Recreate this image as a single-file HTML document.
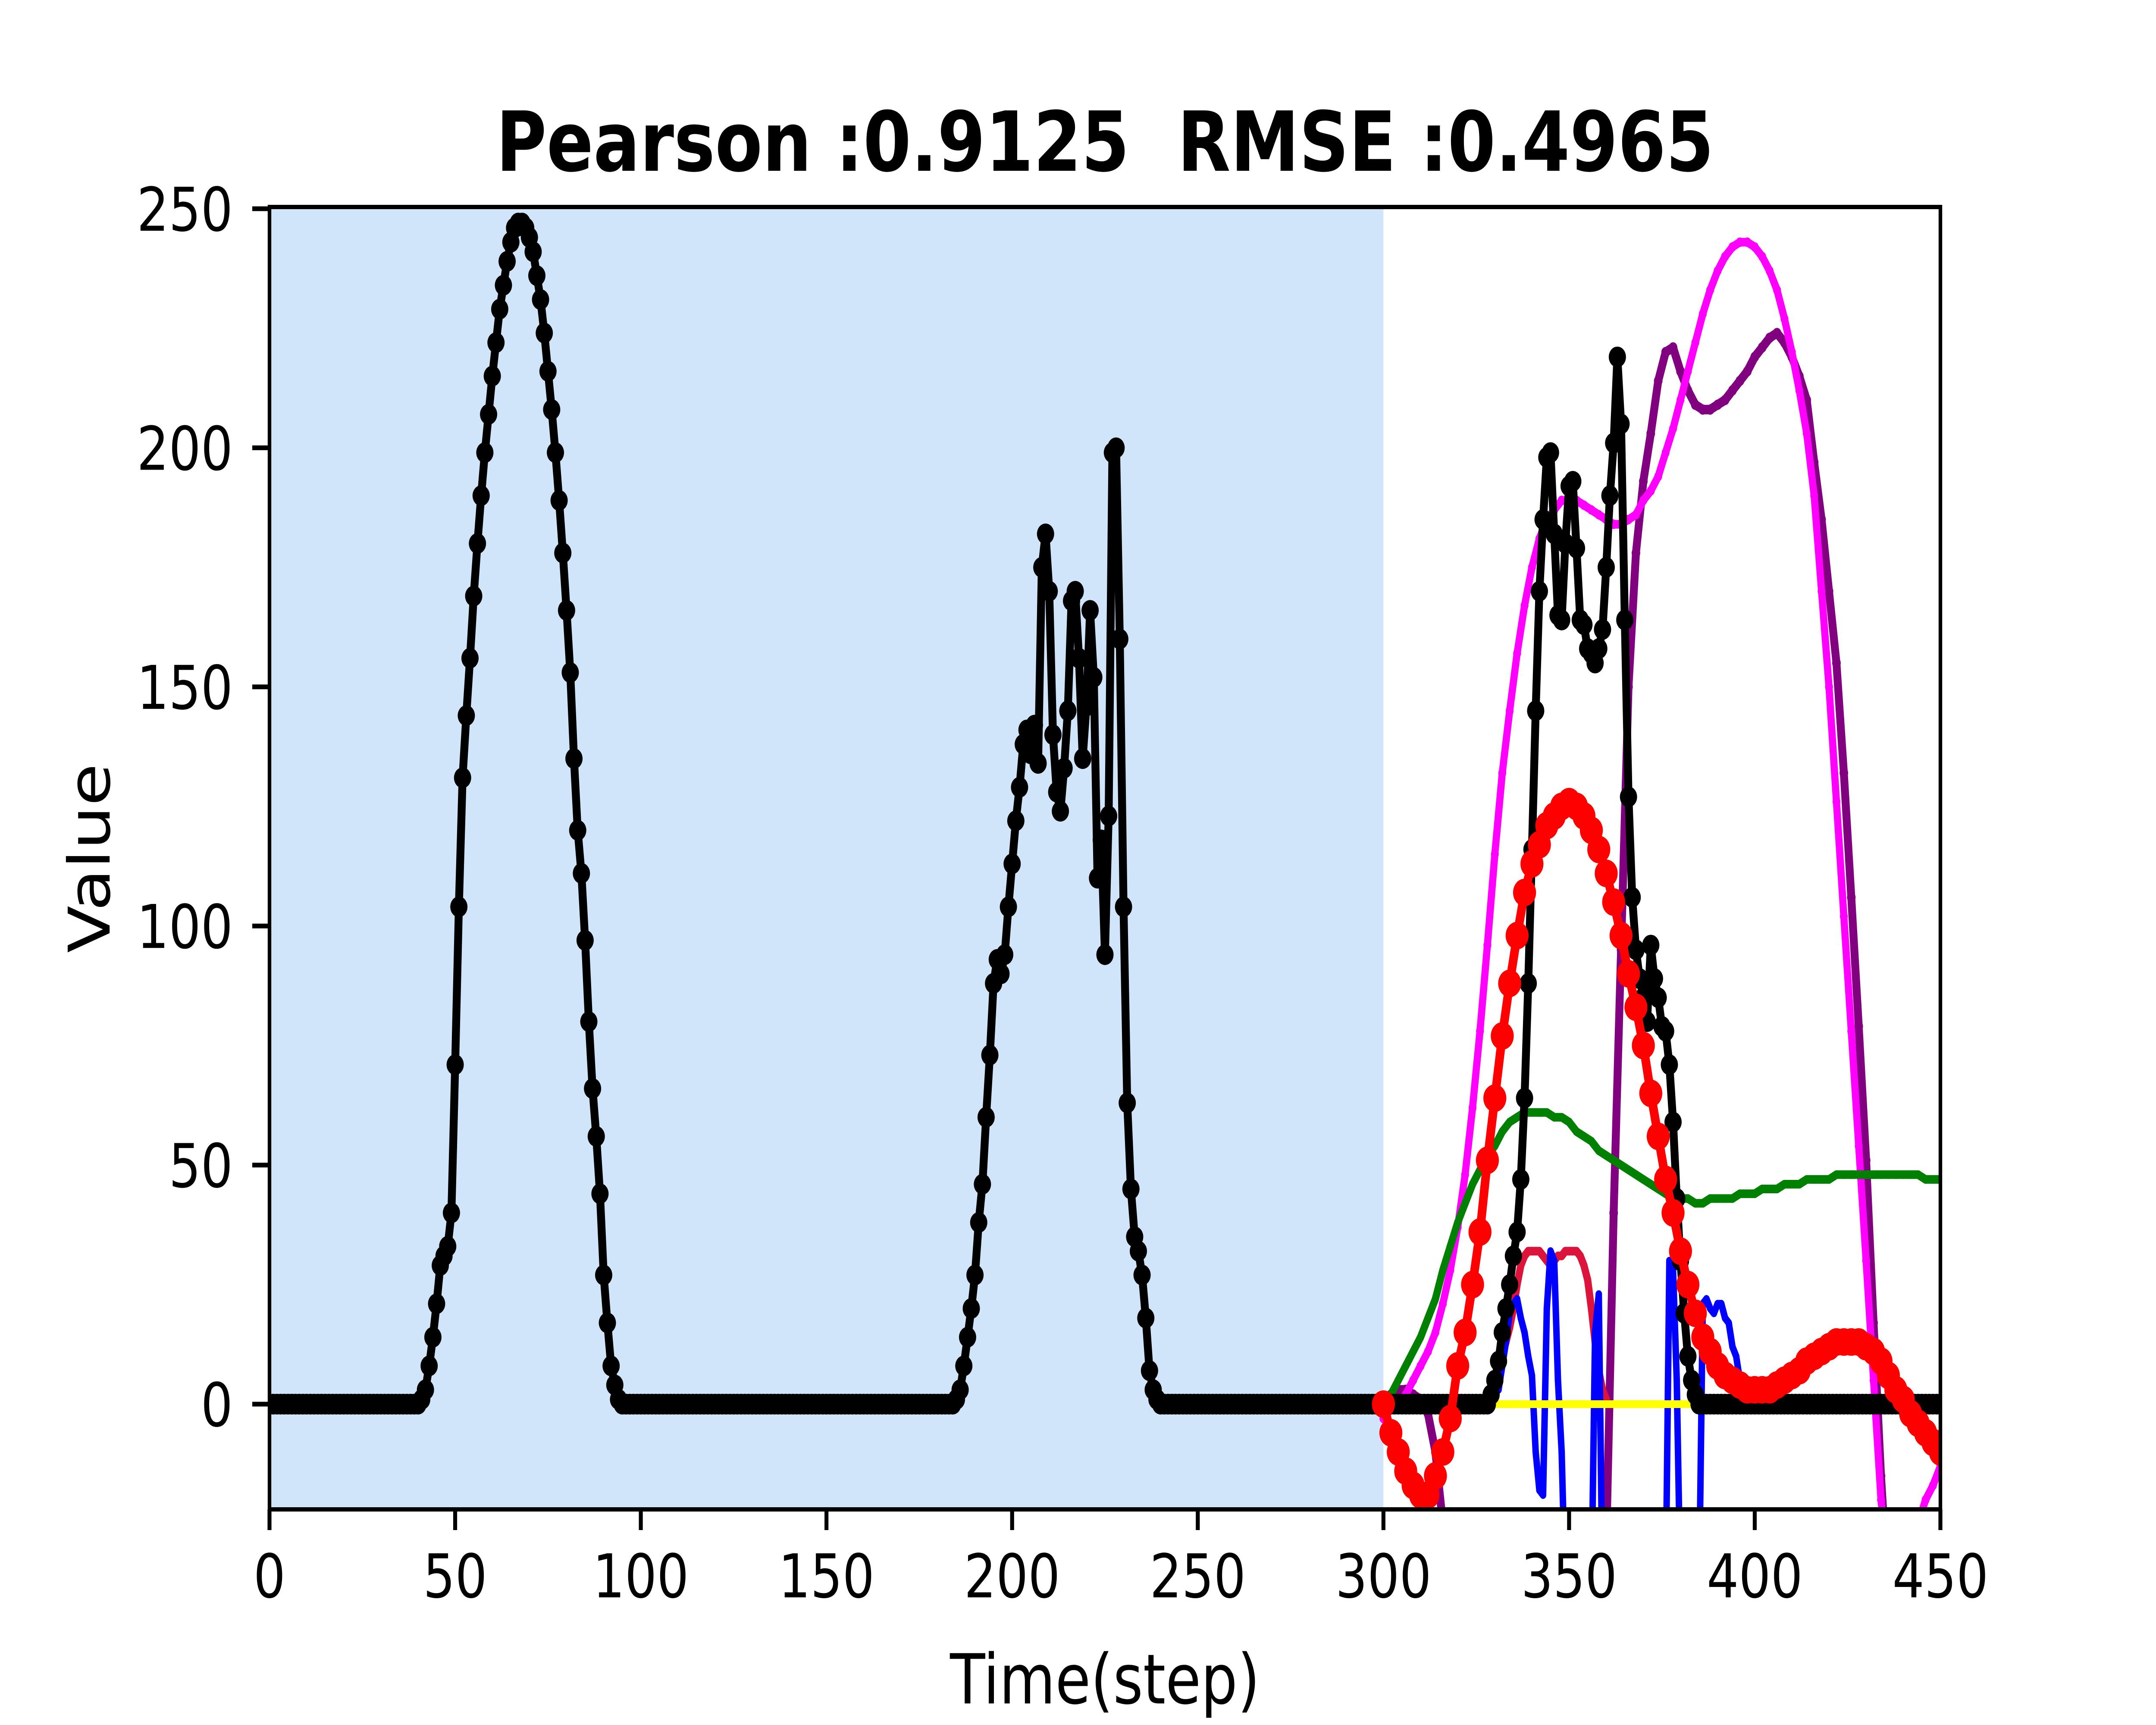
<!DOCTYPE html>
<html>
<head>
<meta charset="utf-8">
<style>
html,body{margin:0;padding:0;background:#fff;width:100%;height:100%;overflow:hidden;}
svg{display:block;position:absolute;left:0;top:0;width:100vw;height:100vh;}
text{font-family:"DejaVu Sans","Liberation Sans",sans-serif;fill:#000;}
</style>
</head>
<body>
<svg id="chart" viewBox="0 0 6000 4000" preserveAspectRatio="none" xmlns="http://www.w3.org/2000/svg">
  <defs>
    <clipPath id="plotclip"><rect x="750" y="480" width="4650" height="3020"/></clipPath>
  </defs>
  <rect x="0" y="0" width="6000" height="4000" fill="#ffffff"/>
  <g id="bg"></g>
  <g id="series" clip-path="url(#plotclip)"></g>
  <rect x="750" y="480" width="4650" height="3020" fill="none" stroke="#000" stroke-width="10"/>
  <g id="xticks"></g>
  <g id="yticks"></g>
  <text x="3075" y="396" font-size="192" font-weight="bold" text-anchor="middle" xml:space="preserve">Pearson :0.9125  RMSE :0.4965</text>
  <text x="3075" y="3950" font-size="160" text-anchor="middle">Time(step)</text>
  <text x="0" y="0" font-size="160" text-anchor="middle" transform="translate(305,1990) rotate(-90)">Value</text>
</svg>
<script>
// ---------- data ----------
const xTicks = [0,50,100,150,200,250,300,350,400,450];
const yTicks = [0,50,100,150,200,250];
const trainEnd = 300;

const actualStart = 0;
const actualValues = [
0,0,0,0,0,0,0,0,0,0,
0,0,0,0,0,0,0,0,0,0,
0,0,0,0,0,0,0,0,0,0,
0,0,0,0,0,0,0,0,0,0,
0,
1,3,8,14,21,29,31,33,40,71,
104,131,144,156,169,180,190,199,207,215,
222,229,234,239,243,246,247,247,246,244,
241,236,231,224,216,208,199,189,178,166,
153,135,120,111,97,80,66,56,44,27,
17,8,4,1,
0,0,0,0,0,0,0,0,0,0,
0,0,0,0,0,0,0,0,0,0,
0,0,0,0,0,0,0,0,0,0,
0,0,0,0,0,0,0,0,0,0,
0,0,0,0,0,0,0,0,0,0,
0,0,0,0,0,0,0,0,0,0,
0,0,0,0,0,0,0,0,0,0,
0,0,0,0,0,0,0,0,0,0,
0,0,0,0,0,0,0,0,0,0,
1,3,8,14,20,27,38,46,60,73,
88,93,90,94,104,113,122,129,138,141,
136,142,134,175,182,170,140,128,124,133,
145,168,170,156,135,146,166,152,110,118,
94,123,199,200,160,104,63,45,35,32,
27,18,7,3,1,
0,0,0,0,0,0,0,0,0,0,
0,0,0,0,0,0,0,0,0,0,
0,0,0,0,0,0,0,0,0,0,
0,0,0,0,0,0,0,0,0,0,
0,0,0,0,0,0,0,0,0,0,
0,0,0,0,0,0,0,0,0,0,
0,0,0,0,0,0,0,0,0,0,
0,0,0,0,0,0,0,0,0,0,
0,0,0,0,0,0,0,0,0,
2,5,9,15,20,25,31,36,47,64,
88,116,145,170,185,198,199,182,165,164,
180,192,193,179,164,163,158,157,155,158,
162,175,190,201,219,205,164,127,106,95,
89,85,80,96,89,85,79,78,71,59,
43,30,19,10,5,2,
0,0,0,0,0,0,0,0,0,0,
0,0,0,0,0,0,0,0,0,0,
0,0,0,0,0,0,0,0,0,0,
0,0,0,0,0,0,0,0,0,0,
0,0,0,0,0,0,0,0,0,0,
0,0,0,0,0,0,0,0,0,0,
0,0,0,0,0,0
];

const testSteps2 = [300,302,304,306,308,310,312,314,316,318,320,322,324,326,328,330,332,334,336,338,340,342,344,346,348,350,352,354,356,358,360,362,364,366,368,370,372,374,376,378,380,382,384,386,388,390,392,394,396,398,400,402,404,406,408,410,412,414,416,418,420,422,424,426,428,430,432,434,436,438,440,442,444,446,448,450];

const redValues = [0,-6,-10,-14,-17,-19,-19,-15,-10,-3,8,15,25,36,51,64,77,88,98,107,113,117,121,123,125,126,125,123,120,116,111,105,98,90,83,75,65,56,47,40,32,25,19,14,11,8,6,5,4,3,3,3,3,4,5,6,7,9,10,11,12,13,13,13,13,12,11,9,6,3,1,-2,-4,-6,-8,-10];

const magentaValues = [-3,-1,0,2,5,8,11,15,21,28,37,48,62,78,96,115,132,145,157,167,175,181,185,187,189,189,189,188,187,186,185,184,184,185,186,189,191,194,199,204,210,216,222,228,233,237,240,242,243,243,242,240,237,233,227,220,212,203,190,170,150,126,102,78,54,30,5,-20,-35,-40,-38,-32,-25,-20,-17,-13];

const purpleValues = [1,2,3,3,2,1,-2,-10,-25,-45,-60,-60,-60,-60,-60,-60,-60,-60,-60,-60,-60,-60,-60,-60,-60,-60,-60,-60,-60,-60,-30,40,95,150,178,193,203,214,220,221,216,212,209,208,208,209,210,212,214,216,219,221,223,224,222,219,215,210,197,185,170,155,132,106,79,51,17,-15,-40,-60,-60,-60,-60,-60,-60,-60];

const greenValues = [0,2,5,8,11,14,18,22,28,33,38,42,46,49,52,54,57,59,60,61,61,61,61,60,60,59,57,56,55,53,52,51,50,49,48,47,46,45,44,43,43,43,42,42,43,43,43,43,44,44,44,45,45,45,46,46,46,47,47,47,47,48,48,48,48,48,48,48,48,48,48,48,48,47,47,47];

const crimsonStart = 328;
const crimsonValues = [0,2,5,8,10,13,16,20,25,29,31,32,32,32,32,31,30,29,30,31,31,32,32,32,32,31,29,26,20,13,7,3,1];

const blueStart = 331;
const blueValues = [3,8,13,19,21,22,18,15,10,6,-10,-18,-19,20,32,30,5,-10,-40,-40,-40,-40,-40,-40,-40,-40,15,23,-40,-40,-40,-40,-40,-40,-40,-40,-40,-40,-40,-40,-40,-40,-40,-40,-40,-40,30,28,5,-40,-40,-40,-40,-40,-40,21,22,20,19,21,21,18,17,12,10,5,3,0];

const yellowSteps = [330,384];
const yellowValues = [0,0];

// ---------- axes ----------
const NS = "http://www.w3.org/2000/svg";
function X(v){ return 750 + v * (4650/450); }
function Y(v){ return 3256 - v * 11.088; }
function mk(tag, attrs, parent){
  const el = document.createElementNS(NS, tag);
  for (const k in attrs) el.setAttribute(k, attrs[k]);
  parent.appendChild(el);
  return el;
}

const bg = document.getElementById('bg');
const trainRect = mk('rect', {x: X(0), y: 480, width: X(trainEnd) - X(0), height: 3020, fill: '#d0e4fa'}, bg);



const xg = document.getElementById('xticks');
xTicks.forEach(t => {
  const ln = mk('line', {x1: X(t), x2: X(t), y1: 3500, y2: 3548, stroke: '#000', 'stroke-width': 11}, xg);
  
  
  const tx = mk('text', {x: X(t), y: 3704, 'font-size': 140, 'text-anchor': 'middle'}, xg);
  tx.textContent = String(t);
  
  
});
const yg = document.getElementById('yticks');
yTicks.forEach(t => {
  const ln = mk('line', {x1: 702, x2: 750, y1: Y(t), y2: Y(t), stroke: '#000', 'stroke-width': 11}, yg);
  
  
  const tx = mk('text', {x: 648, y: Y(t) + 51, 'font-size': 140, 'text-anchor': 'end'}, yg);
  tx.textContent = String(t);
  
  
});

// ---------- series ----------
const sg = document.getElementById('series');
function drawSeries(name, xs, ys, color, lw, r){
  const g = mk('g', {}, sg);
  
  
  let d = '';
  for (let i = 0; i < ys.length; i++) d += (i ? 'L' : 'M') + X(xs[i]).toFixed(1) + ' ' + Y(ys[i]).toFixed(1);
  const p = mk('path', {d: d, fill: 'none', stroke: color, 'stroke-width': lw, 'stroke-linejoin': 'round', 'stroke-linecap': 'round'}, g);
  
  
  if (r > 0) {
    for (let i = 0; i < ys.length; i++) {
      const c = mk('circle', {cx: X(xs[i]).toFixed(1), cy: Y(ys[i]).toFixed(1), r: r, fill: color}, g);
      
      
    }
  }
}
function seq(start, n){ const a = []; for (let i = 0; i < n; i++) a.push(start + i); return a; }

drawSeries('purple-series', testSteps2, purpleValues, '#800080', 22, 12);
drawSeries('magenta-series', testSteps2, magentaValues, '#ff00ff', 20, 11);
drawSeries('green-series', testSteps2, greenValues, '#008000', 20, 10);
drawSeries('crimson-series', seq(crimsonStart, crimsonValues.length), crimsonValues, '#dc143c', 20, 10);
drawSeries('blue-series', seq(blueStart, blueValues.length), blueValues, '#0000ff', 18, 9);
drawSeries('yellow-series', yellowSteps, yellowValues, '#ffff00', 18, 0);
drawSeries('actual-series', seq(actualStart, actualValues.length), actualValues, '#000000', 22, 24);
drawSeries('predicted-series', testSteps2, redValues, '#ff0000', 24, 32);
</script>
</body>
</html>
